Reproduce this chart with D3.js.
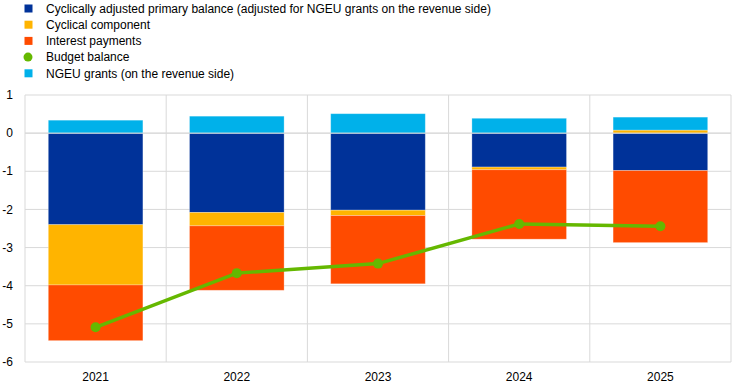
<!DOCTYPE html>
<html>
<head>
<meta charset="utf-8">
<script src="https://cdn.jsdelivr.net/npm/d3@7"></script>
<style>
  body { margin: 0; background: #fff; }
  svg { display: block; font-family: Arial, "Liberation Sans", sans-serif; }
</style>
</head>
<body>
<div id="chart"></div>
<script>
const years = ["2021", "2022", "2023", "2024", "2025"];
const capb = [-2.40, -2.08, -2.02, -0.89, -0.98];
const cyclical = [-1.58, -0.35, -0.14, -0.07, 0.08];
const interest = [-1.46, -1.69, -1.79, -1.82, -1.89];
const ngeu = [0.34, 0.445, 0.51, 0.39, 0.34];
const budget = [-5.09, -3.67, -3.42, -2.38, -2.44];
const yTicks = [1, 0, -1, -2, -3, -4, -5, -6];

const series = [
    { key: "capb", label: "Cyclically adjusted primary balance (adjusted for NGEU grants on the revenue side)", color: "#003299", values: capb },
    { key: "cyclical", label: "Cyclical component", color: "#ffb400", values: cyclical },
    { key: "interest", label: "Interest payments", color: "#ff4b00", values: interest },
    { key: "ngeu", label: "NGEU grants (on the revenue side)", color: "#00b1ea", values: ngeu }
];
const lineColor = "#65b800";

const W = 744, H = 388;
const margin = { top: 95, right: 13, bottom: 26, left: 25 };
const width = W - margin.left - margin.right,
    height = H - margin.top - margin.bottom;

const svg = d3.select("#chart").append("svg")
    .attr("width", W)
    .attr("height", H);

// legend
const legendItems = [series[0], series[1], series[2], { label: "Budget balance", color: lineColor, circle: true }, series[3]];
legendItems.forEach((d, i) => {
    const cy = 8.5 + i * 16.2;
    if (d.circle) {
        svg.append("circle").attr("cx", 28).attr("cy", cy).attr("r", 4.5).attr("fill", d.color);
    } else {
        svg.append("rect").attr("x", 24.5).attr("y", cy - 4).attr("width", 8).attr("height", 8).attr("fill", d.color);
    }
    svg.append("text")
        .attr("x", 46)
        .attr("y", cy)
        .attr("dy", "0.35em")
        .attr("font-size", "12px")
        .attr("fill", "#000")
        .text(d.label);
});

const g = svg.append("g").attr("transform", `translate(${margin.left},${margin.top})`);

const x = d3.scaleBand().domain(years).range([0, width]).paddingInner(0).paddingOuter(0);
const y = d3.scaleLinear().domain([-6, 1]).range([height, 0]);

// grid
g.append("g")
    .selectAll("line")
    .data(yTicks)
    .join("line")
    .attr("x1", 0).attr("x2", width)
    .attr("y1", d => y(d)).attr("y2", d => y(d))
    .attr("stroke", "#d9d9d9").attr("stroke-width", 1);
g.append("g")
    .selectAll("line")
    .data(d3.range(years.length + 1))
    .join("line")
    .attr("x1", i => i * x.step()).attr("x2", i => i * x.step())
    .attr("y1", 0).attr("y2", height)
    .attr("stroke", "#d9d9d9").attr("stroke-width", 1);

// bars
const table = years.map((yr, i) => {
    const row = { year: yr };
    series.forEach(s => row[s.key] = s.values[i]);
    return row;
});
const stacked = d3.stack()
    .keys(series.map(s => s.key))
    .offset(d3.stackOffsetDiverging)(table);

const barW = x.bandwidth() * 0.67;
g.append("g")
    .selectAll("g")
    .data(stacked)
    .join("g")
    .attr("fill", (d, i) => series[i].color)
    .selectAll("rect")
    .data(d => d)
    .join("rect")
    .attr("x", d => x(d.data.year) + (x.bandwidth() - barW) / 2)
    .attr("y", d => y(Math.max(d[0], d[1])))
    .attr("width", barW)
    .attr("height", d => Math.abs(y(d[0]) - y(d[1])))
    .attr("stroke", "#fff")
    .attr("stroke-opacity", 0.35)
    .attr("stroke-width", 0.8);

// zero line over bars
g.append("line")
    .attr("x1", 0).attr("x2", width)
    .attr("y1", y(0)).attr("y2", y(0))
    .attr("stroke", "#d9d9d9").attr("stroke-width", 1);

// budget balance line
const line = d3.line()
    .x((d, i) => x(years[i]) + x.bandwidth() / 2)
    .y(d => y(d));
g.append("path")
    .datum(budget)
    .attr("d", line)
    .attr("fill", "none")
    .attr("stroke", lineColor)
    .attr("stroke-width", 3.5);
g.append("g")
    .selectAll("circle")
    .data(budget)
    .join("circle")
    .attr("cx", (d, i) => x(years[i]) + x.bandwidth() / 2)
    .attr("cy", d => y(d))
    .attr("r", 5)
    .attr("fill", lineColor);

// axes labels
g.append("g")
    .selectAll("text")
    .data(yTicks)
    .join("text")
    .attr("x", -12)
    .attr("y", d => y(d))
    .attr("dy", "0.35em")
    .attr("text-anchor", "end")
    .attr("font-size", "12px")
    .text(d => d);
g.append("g")
    .selectAll("text")
    .data(years)
    .join("text")
    .attr("x", d => x(d) + x.bandwidth() / 2)
    .attr("y", height + 15)
    .attr("dy", "0.35em")
    .attr("text-anchor", "middle")
    .attr("font-size", "12px")
    .text(d => d);
</script>
</body>
</html>
